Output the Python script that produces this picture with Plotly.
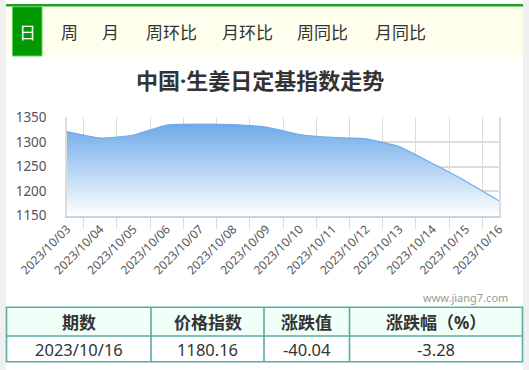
import plotly.graph_objects as go

W, H = 529, 370

dates = ["2023/10/03", "2023/10/04", "2023/10/05", "2023/10/06", "2023/10/07",
         "2023/10/08", "2023/10/09", "2023/10/10", "2023/10/11", "2023/10/12",
         "2023/10/13", "2023/10/14", "2023/10/15", "2023/10/16"]
values = [1321, 1308, 1314, 1334, 1336, 1335, 1330, 1315, 1309, 1306,
          1290, 1256, 1220.20, 1180.16]
y_ticks = [1150, 1200, 1250, 1300, 1350]

tabs = ["日", "周", "月", "周环比", "月环比", "周同比", "月同比"]
tab_x = [27, 69, 110, 171, 247, 323, 400]

table_headers = ["期数", "价格指数", "涨跌值", "涨跌幅（%）"]
table_values = ["2023/10/16", "1180.16", "-40.04", "-3.28"]
col_edges = [6, 151, 264, 349.5, 523]

title = "中国·生姜日定基指数走势"
watermark = "www.jiang7.com"

CJK = "Noto Sans, Noto Sans CJK SC"


def px(x):
    return x / W


def py(y):
    return 1 - y / H


fig = go.Figure()
fig.add_trace(go.Scatter(
    x=dates, y=values, mode="lines",
    line=dict(color="rgb(112,172,234)", width=1.2, shape="spline", smoothing=0.5),
    fill="tozeroy",
    fillgradient=dict(type="vertical", start=1150, stop=1338,
                      colorscale=[[0, "rgb(255,255,255)"], [1, "rgb(108,169,232)"]]),
    hoverinfo="skip", showlegend=False,
))

shapes = []
ann = []

# page side strips
shapes.append(dict(type="rect", xref="paper", yref="paper", x0=0, x1=px(6), y0=0, y1=1,
                   fillcolor="#F0F0F0", line=dict(width=0), layer="below"))
shapes.append(dict(type="rect", xref="paper", yref="paper", x0=px(523), x1=1, y0=0, y1=1,
                   fillcolor="#F0F0F0", line=dict(width=0), layer="below"))
# tab bar
shapes.append(dict(type="rect", xref="paper", yref="paper", x0=px(6), x1=px(523), y0=py(56.7), y1=py(6.5),
                   fillcolor="#FFFFEE", line=dict(width=0), layer="below"))
shapes.append(dict(type="rect", xref="paper", yref="paper", x0=px(6), x1=px(523), y0=py(6.6), y1=py(4),
                   fillcolor="#1FA01F", line=dict(width=0), layer="below"))
shapes.append(dict(type="rect", xref="paper", yref="paper", x0=px(12.5), x1=px(42), y0=py(56), y1=py(6.8),
                   fillcolor="#009900", line=dict(color="#66CC66", width=1), layer="below"))
for i, (t, x) in enumerate(zip(tabs, tab_x)):
    ann.append(dict(text=t, x=px(x), y=py(33), xref="paper", yref="paper", showarrow=False,
                    xanchor="center", yanchor="middle",
                    font=dict(family=CJK, size=17,
                              color="#FFFFFF" if i == 0 else "#333333")))

# title
ann.append(dict(text="<b>" + title + "</b>", x=px(260), y=py(80), xref="paper", yref="paper",
                showarrow=False, xanchor="center", yanchor="middle",
                font=dict(family=CJK, size=22, color="#333333")))
# watermark
ann.append(dict(text=watermark, x=px(510), y=py(297), xref="paper", yref="paper", showarrow=False,
                xanchor="right", yanchor="middle",
                font=dict(family="Noto Sans", size=11, color="#999999")))

# table
t_top, t_mid, t_bot = 307.3, 336, 361.7
border = "#5AAAA4"
shapes.append(dict(type="rect", xref="paper", yref="paper", x0=px(6), x1=px(523), y0=py(t_mid), y1=py(t_top),
                   fillcolor="#F0FFF8", line=dict(width=0), layer="below"))
shapes.append(dict(type="rect", xref="paper", yref="paper", x0=px(6.5), x1=px(522.5), y0=py(t_bot), y1=py(t_top),
                   fillcolor="rgba(0,0,0,0)", line=dict(color=border, width=1.6)))
shapes.append(dict(type="line", xref="paper", yref="paper", x0=px(6), x1=px(523), y0=py(t_mid), y1=py(t_mid),
                   line=dict(color=border, width=1.6)))
for ce in col_edges[1:-1]:
    shapes.append(dict(type="line", xref="paper", yref="paper", x0=px(ce), x1=px(ce), y0=py(t_bot), y1=py(t_top),
                       line=dict(color=border, width=1.6)))
for i in range(4):
    cx = (col_edges[i] + col_edges[i + 1]) / 2
    ann.append(dict(text="<b>" + table_headers[i] + "</b>", x=px(cx), y=py((t_top + t_mid) / 2 + 0.5),
                    xref="paper", yref="paper", showarrow=False, xanchor="center", yanchor="middle",
                    font=dict(family=CJK, size=17, color="#333333")))
    ann.append(dict(text=table_values[i], x=px(cx), y=py((t_mid + t_bot) / 2 + 0.5),
                    xref="paper", yref="paper", showarrow=False, xanchor="center", yanchor="middle",
                    font=dict(family="Noto Sans", size=16.5, color="#333333")))

fig.update_layout(
    width=W, height=H,
    margin=dict(l=0, r=0, t=0, b=0, autoexpand=False),
    paper_bgcolor="white", plot_bgcolor="rgba(0,0,0,0)",
    shapes=shapes, annotations=ann,
    xaxis=dict(domain=[px(67), px(499)], type="category", tickson="boundaries", automargin=False,
               showgrid=True, gridcolor="#DCDCDC", gridwidth=1,
               ticks="outside", ticklen=12, tickcolor="#DCDCDC", tickwidth=1,
               tickangle=-45, tickfont=dict(family="Noto Sans", size=12, color="#555555"),
               showline=True, linecolor="#C4D4E6", linewidth=1.5, zeroline=False,
               fixedrange=True),
    yaxis=dict(domain=[py(215.7), py(117.3)], range=[1150, 1350], tickvals=y_ticks, automargin=False,
               showgrid=True, gridcolor="#DCDCDC", gridwidth=1.5,
               ticks="outside", ticklen=16, tickcolor="rgba(0,0,0,0)",
               tickfont=dict(family="Noto Sans", size=13.5, color="#555555"),
               showline=True, linecolor="#DCDCDC", linewidth=1.5, mirror=True, zeroline=False,
               fixedrange=True),
)

fig.write_html("out.html", config={"displayModeBar": False})
